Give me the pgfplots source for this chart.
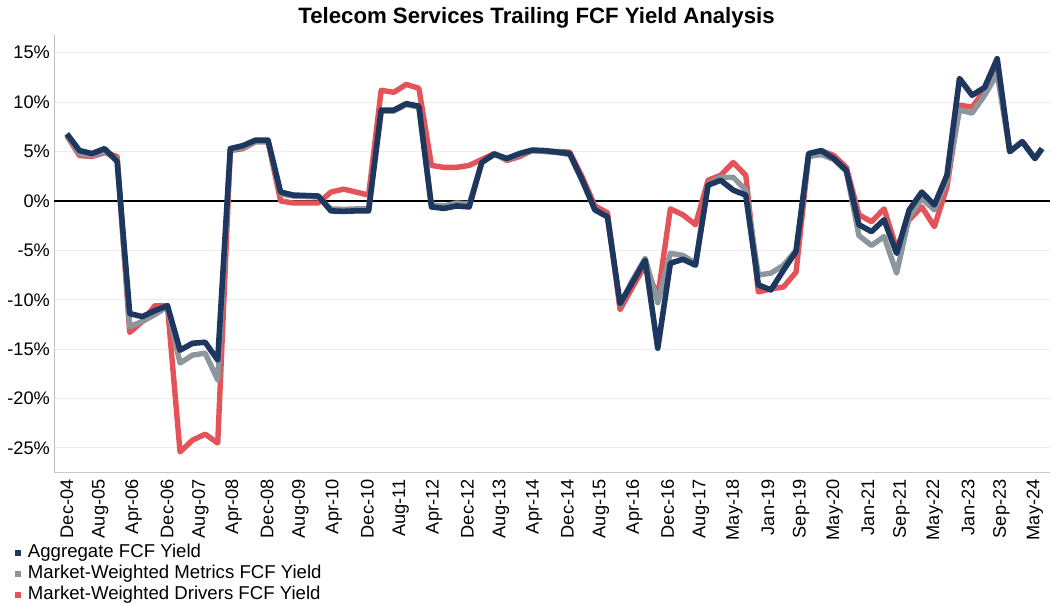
\documentclass[border=0pt]{standalone}
\usepackage{fontspec}
\setmainfont{Liberation Sans}
\usepackage{pgfplots}
\usepackage{pgfplotstable}
\pgfplotsset{compat=1.18}
\definecolor{navyc}{RGB}{30,55,95}
\definecolor{grayc}{RGB}{140,150,156}
\definecolor{redc}{RGB}{228,83,88}
\pgfplotstableread{
idx agg met drv
0 6.8 6.7 6.6
1 5.1 4.8 4.6
2 4.8 4.6 4.5
3 5.3 5.0 4.9
4 4.0 4.2 4.5
5 -11.4 -12.7 -13.3
6 -11.7 -12.2 -12.2
7 -11.1 -11.5 -10.6
8 -10.6 -10.7 -10.6
9 -15.1 -16.4 -25.4
10 -14.4 -15.6 -24.2
11 -14.3 -15.4 -23.6
12 -16.1 -18.1 -24.5
13 5.3 5.2 5.1
14 5.6 5.4 5.3
15 6.15 6.0 6.0
16 6.15 6.0 6.0
17 0.9 0.7 0.0
18 0.6 0.5 -0.2
19 0.55 0.45 -0.2
20 0.5 0.4 -0.2
21 -1.0 -0.8 0.9
22 -1.05 -0.85 1.2
23 -1.0 -0.8 0.9
24 -1.0 -0.8 0.6
25 9.2 9.1 11.2
26 9.2 9.1 11.0
27 9.85 9.75 11.8
28 9.6 9.5 11.4
29 -0.6 -0.4 3.6
30 -0.75 -0.5 3.4
31 -0.5 -0.2 3.4
32 -0.6 -0.3 3.6
33 3.9 3.9 4.2
34 4.75 4.7 4.8
35 4.3 4.2 4.1
36 4.8 4.7 4.5
37 5.15 5.1 5.1
38 5.1 5.0 5.05
39 4.95 4.9 5.0
40 4.8 4.7 4.95
41 2.1 2.0 2.4
42 -0.9 -0.9 -0.5
43 -1.6 -1.6 -1.2
44 -10.4 -10.5 -11.0
45 -8.2 -8.0 -8.7
46 -6.0 -5.8 -6.5
47 -14.9 -10.3 -9.7
48 -6.3 -5.3 -0.8
49 -5.9 -5.5 -1.4
50 -6.5 -6.3 -2.4
51 1.6 1.7 2.1
52 2.1 2.4 2.6
53 1.1 2.4 3.9
54 0.6 1.1 2.6
55 -8.5 -7.5 -9.2
56 -9.0 -7.3 -8.9
57 -7.0 -6.5 -8.7
58 -5.1 -5.0 -7.2
59 4.8 4.5 4.6
60 5.1 4.7 5.1
61 4.3 4.2 4.6
62 3.1 3.0 3.4
63 -2.4 -3.5 -1.4
64 -3.1 -4.5 -2.1
65 -1.9 -3.6 -0.8
66 -5.3 -7.3 -4.8
67 -0.9 -1.6 -1.9
68 0.9 0.25 -0.6
69 -0.4 -0.9 -2.6
70 2.6 2.1 1.4
71 12.4 9.2 9.7
72 10.7 8.9 9.5
73 11.5 10.7 11.2
74 14.4 12.9 13.6
75 5.0 5.0 5.0
76 6.0 6.0 6.0
77 4.3 4.3 4.3
77.56 5.3 5.3 5.3
}\yields

\begin{document}
\begin{tikzpicture}
\useasboundingbox (-27.15pt,-65.15pt) rectangle (498.85pt,236.35pt);
\begin{axis}[
  scale only axis, width=497.85pt, height=218.85pt,
  at={(0pt,0pt)}, anchor=south west,
  xmin=-1, xmax=78.2, ymin=-27.5, ymax=16.8,
  axis x line*=bottom, axis y line*=left,
  x axis line style={-, draw=black!22, line width=0.75pt},
  y axis line style={-, draw=black!25, line width=0.5pt},
  major tick length=0pt,
  /pgf/number format/assume math mode=true,
  ticklabel style={font=\fontsize{9.1}{10.9}\selectfont},
  xtick={0,2.655,5.31,7.965,10.62,13.275,15.93,18.585,21.24,23.895,26.55,29.205,31.86,34.515,37.17,39.825,42.48,45.135,47.79,50.445,53.1,55.755,58.41,61.065,63.72,66.375,69.03,71.685,74.34,76.995},
  xticklabels={Dec-04,Aug-05,Apr-06,Dec-06,Aug-07,Apr-08,Dec-08,Aug-09,Apr-10,Dec-10,Aug-11,Apr-12,Dec-12,Aug-13,Apr-14,Dec-14,Aug-15,Apr-16,Dec-16,Aug-17,May-18,Jan-19,Sep-19,May-20,Jan-21,Sep-21,May-22,Jan-23,Sep-23,May-24},
  xticklabel style={rotate=90, anchor=east, inner sep=0pt},
  xticklabel shift=3.2pt,
  ytick={-25,-20,-15,-10,-5,0,5,10,15},
  yticklabels={-25\%,-20\%,-15\%,-10\%,-5\%,0\%,5\%,10\%,15\%},
  yticklabel style={inner sep=0pt},
  yticklabel shift=2pt,
  ymajorgrids,
  major grid style={color=black!7, line width=0.5pt},
  extra y ticks={0}, extra y tick labels={},
  extra y tick style={grid=major, major grid style={black, line width=1pt}},
  reverse legend,
  legend cell align=left,
  legend image code/.code={\fill[#1, draw=none] (0pt,-1.5pt) rectangle (3pt,1.5pt);},
  legend style={at={(0,0)}, anchor=north west, xshift=-19.65pt, yshift=-34.85pt,
    draw=none, fill=none, inner sep=0pt, outer sep=0pt,
    font=\fontsize{9.3}{11}\selectfont,
    /tikz/column sep=2.5pt, /tikz/row sep=0pt,
    nodes={inner sep=1pt, text height=6.5pt, text depth=2pt}},
  line join=round,
]
\addplot[redc, line width=2.7pt, no markers] table[x=idx, y=drv]{\yields};
\addlegendentry{Market-Weighted Drivers FCF Yield}
\addplot[grayc, line width=2.7pt, no markers] table[x=idx, y=met]{\yields};
\addlegendentry{Market-Weighted Metrics FCF Yield}
\addplot[navyc, line width=2.8pt, no markers] table[x=idx, y=agg]{\yields};
\addlegendentry{Aggregate FCF Yield}
\end{axis}
\node[font=\fontsize{11.1}{13}\selectfont\bfseries, anchor=center] at (241.1pt,227.35pt) {Telecom Services Trailing FCF Yield Analysis};
\end{tikzpicture}
\end{document}
